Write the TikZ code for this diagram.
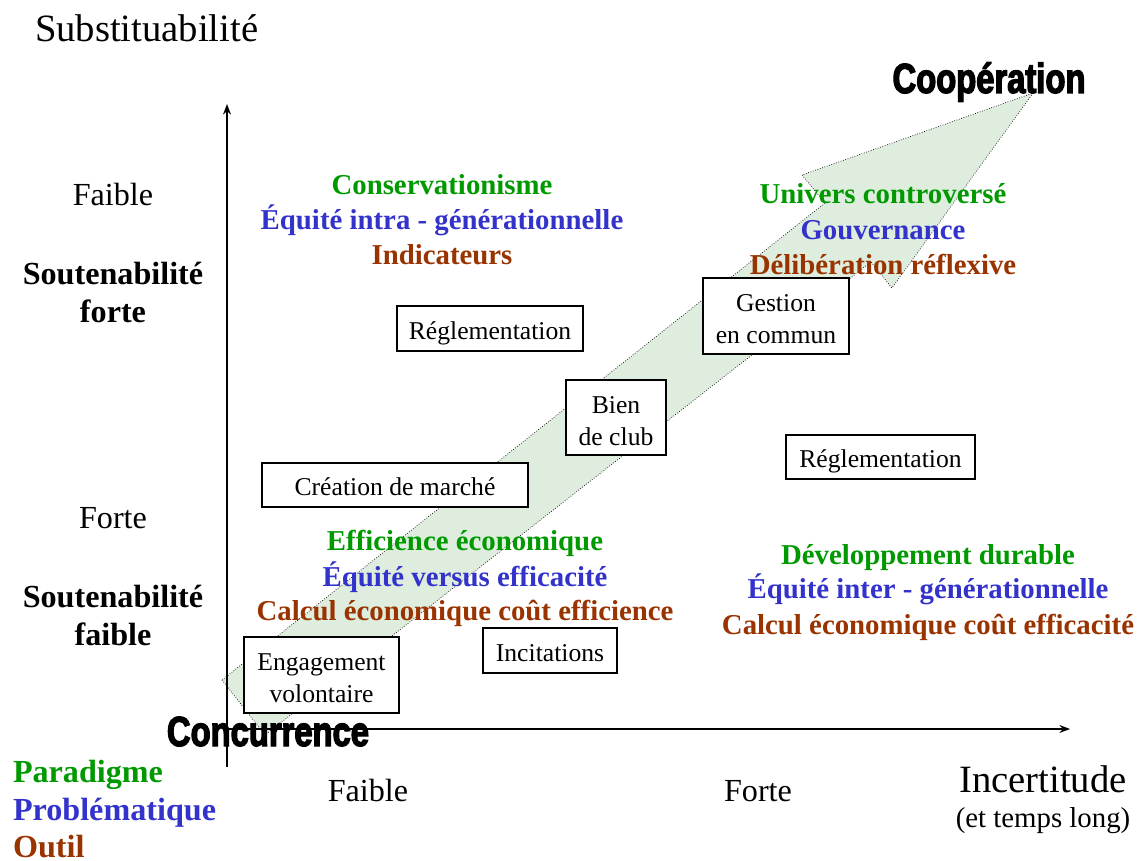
\documentclass[tikz,border=0pt]{standalone}
\usepackage{fontspec}
\setmainfont{Liberation Serif}
\newfontfamily\impactfont[FakeStretch=0.78,FakeBold=3]{Liberation Sans}
\usepackage{xcolor}
\usetikzlibrary{arrows.meta}
\definecolor{paradigme}{RGB}{0,153,0}
\definecolor{problematique}{RGB}{51,51,204}
\definecolor{outil}{RGB}{153,51,0}
\definecolor{flechefond}{RGB}{222,237,221}

\begin{document}
\begin{tikzpicture}[x=0.02cm,y=-0.02cm,
    every node/.style={inner sep=0pt,outer sep=0pt},
    axe/.style={line width=0.9pt,-{Stealth[length=6pt,width=4.5pt]}},
    boite/.style={draw,line width=0.8pt,fill=white,align=center,font=\fontsize{14.6}{18.2}\selectfont},
    ligne/.style={text height=12.2pt,text depth=0pt},
    grand/.style={anchor=base,font=\fontsize{22}{26}\selectfont},
    libelle/.style={anchor=base,font=\fontsize{18.3}{22}\selectfont},
    gras/.style={anchor=base,font=\fontsize{18.3}{22}\selectfont\bfseries},
    para/.style={anchor=base,font=\fontsize{16.4}{20}\selectfont\bfseries,text=paradigme},
    prob/.style={anchor=base,font=\fontsize{16.4}{20}\selectfont\bfseries,text=problematique},
    outl/.style={anchor=base,font=\fontsize{16.4}{20}\selectfont\bfseries,text=outil},
    pole/.style={anchor=base,font=\impactfont\bfseries\fontsize{23.9}{28}\selectfont}]
    \useasboundingbox (0,0) rectangle (1140,861);

    % Drawing the large arrow
    \draw [densely dotted,line width=0.4pt,fill=flechefond] (222,680) -- (825,203) -- (802,175)
        -- (1033,93) -- (892,288) -- (871,262) -- (265,735) -- cycle;

    % Drawing the axes
    \coordinate (origine) at (227,729);
    \coordinate (ybas) at (227,767);
    \coordinate (yhaut) at (227,104);
    \coordinate (xfin) at (1070,729);
    \draw [axe] (ybas) -- (yhaut);
    \draw [axe] (origine) -- (xfin);

    % Axis titles
    \node [grand,anchor=base west] (substit) at (35,42) {Substituabilité};
    \node [grand] (incert) at (1043,792) {Incertitude};
    \node [libelle,font=\fontsize{16.4}{20}\selectfont] (tempslong) at (1043,827) {(et temps long)};

    % Left labels
    \node [libelle] (yfaible) at (113,206) {Faible};
    \node [gras] (soutA) at (113,285) {Soutenabilité};
    \node [gras] (soutAb) at (113,323) {forte};
    \node [libelle] (yforte) at (113,529) {Forte};
    \node [gras] (soutB) at (113,607) {Soutenabilité};
    \node [gras] (soutBb) at (113,645) {faible};

    % Bottom labels
    \node [libelle] (xfaible) at (368,801) {Faible};
    \node [libelle] (xforte) at (758,801) {Forte};

    % Legend
    \node [para,anchor=base west,font=\fontsize{18.3}{22}\selectfont\bfseries] (legpara) at (13,782) {Paradigme};
    \node [prob,anchor=base west,font=\fontsize{18.3}{22}\selectfont\bfseries] (legprob) at (13,820) {Problématique};
    \node [outl,anchor=base west,font=\fontsize{18.3}{22}\selectfont\bfseries] (legoutil) at (13,857) {Outil};

    % Upper left quadrant
    \node [para] (consA) at (442,195) {Conservationisme};
    \node [prob] (consB) at (442,230) {Équité intra - générationnelle};
    \node [outl] (consC) at (442,265) {Indicateurs};

    % Upper right quadrant
    \node [para] (univA) at (883,204) {Univers controversé};
    \node [prob] (univB) at (883,240) {Gouvernance};
    \node [outl] (univC) at (883,275) {Délibération réflexive};

    % Lower left quadrant
    \node [para] (effA) at (465,551) {Efficience économique};
    \node [prob] (effB) at (465,586) {Équité versus efficacité};
    \node [outl] (effC) at (465,621) {Calcul économique coût efficience};

    % Lower right quadrant
    \node [para] (devA) at (928,564) {Développement durable};
    \node [prob] (devB) at (928,599) {Équité inter - générationnelle};
    \node [outl] (devC) at (928,634) {Calcul économique coût efficacité};

    % Instruments
    \node [boite,ligne,minimum width=3.72cm,minimum height=0.9cm] (reglA) at (490,328.5) {Réglementation};
    \node [boite,ligne,minimum width=5.32cm,minimum height=0.88cm] (marche) at (395,485) {Création de marché};
    \node [boite,minimum width=3.1cm,minimum height=1.52cm] (engag) at (321.5,675) {\rule{0pt}{13.5pt}Engagement\\volontaire};
    \node [boite,ligne,minimum width=2.68cm,minimum height=0.9cm] (incit) at (550,650.5) {Incitations};
    \node [boite,minimum width=2cm,minimum height=1.5cm] (club) at (616,417.5) {\rule{0pt}{14pt}Bien\\de club};
    \node [boite,minimum width=2.92cm,minimum height=1.52cm] (gestion) at (776,316) {\rule{0pt}{13.5pt}Gestion\\en commun};
    \node [boite,ligne,minimum width=3.78cm,minimum height=0.88cm] (reglB) at (880.5,457) {Réglementation};

    % Poles of the arrow
    \node [pole] (coop) at (989,93) {Coopération};
    \node [pole] (concur) at (268,746) {Concurrence};
\end{tikzpicture}
\end{document}
